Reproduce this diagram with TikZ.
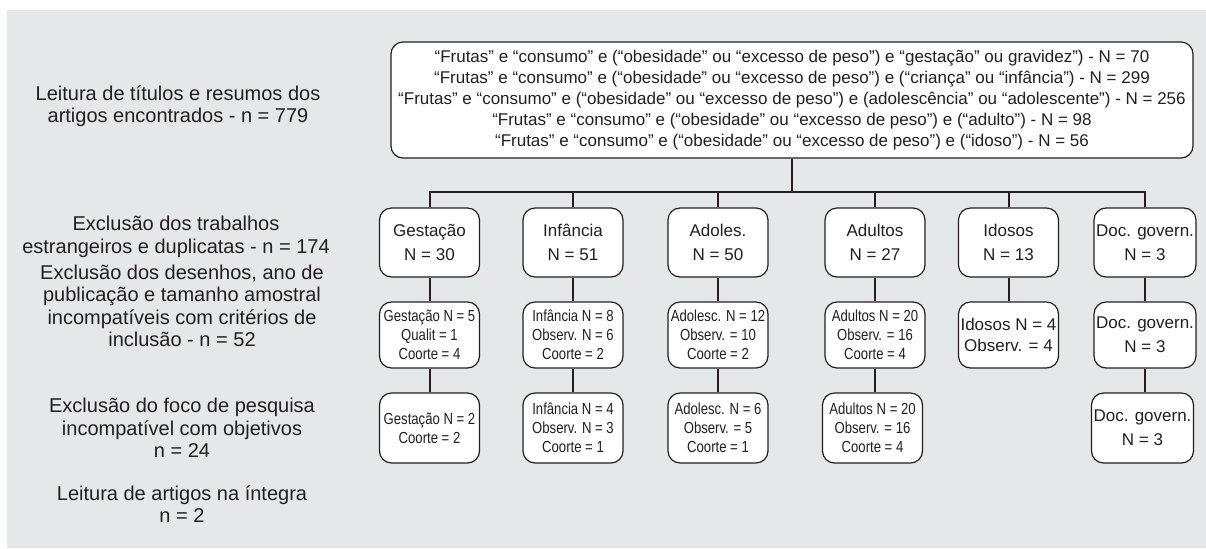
\documentclass[tikz,border=0pt]{standalone}
\usepackage{fontspec}
\setmainfont{Liberation Sans}
\newfontfamily\narrowfont[FakeStretch=0.82]{Liberation Sans}
\definecolor{panel}{HTML}{E6E7E8}
\definecolor{ink}{HTML}{231F20}
\tikzset{
  every node/.style={font=\fontsize{8.5}{10.5}\selectfont, text=ink},
  catbox/.style={draw=ink, fill=white, rounded corners=6pt, line width=0.6pt,
    minimum width=50pt, minimum height=34.5pt, align=center, inner sep=1pt},
  subbox/.style={catbox, font=\narrowfont\fontsize{8}{9.6}\selectfont},
  steptext/.style={align=center, font=\fontsize{10}{11.25}\selectfont},
  link/.style={draw=ink, line width=1pt}
}
\begin{document}
\begin{tikzpicture}[x=0.5pt,y=-0.5pt]
%\draw[step=10,gray,very thin] (0,0) grid (1206,548);
\useasboundingbox (0,0) rectangle (1206,548);
\fill[panel] (7,10) rectangle (1206,548);

% etapas
\node[steptext] (s1) at (178,106) {Leitura de títulos e resumos dos\\artigos encontrados - n = 779};
\node[steptext] (s2) at (176,237) {Exclusão dos trabalhos\\estrangeiros e duplicatas - n = 174};
\node[steptext] (s3) at (182,306) {Exclusão dos desenhos, ano de\\publicação e tamanho amostral\\incompatíveis com critérios de\\inclusão - n = 52};
\node[steptext] (s4) at (182,428) {Exclusão do foco de pesquisa\\incompatível com objetivos\\n = 24};
\node[steptext] (s5) at (182,504) {Leitura de artigos na íntegra\\n = 2};

% busca
\node[catbox, minimum width=401pt, minimum height=58pt] (busca) at (792,100) {%
“Frutas” e “consumo” e (“obesidade” ou “excesso de peso”) e “gestação” ou gravidez”) - N = 70\\
“Frutas” e “consumo” e (“obesidade” ou “excesso de peso”) e (“criança” ou “infância”) - N = 299\\
“Frutas” e “consumo” e (“obesidade” ou “excesso de peso”) e (adolescência” ou “adolescente”) - N = 256\\
“Frutas” e “consumo” e (“obesidade” ou “excesso de peso”) e (“adulto”) - N = 98\\
“Frutas” e “consumo” e (“obesidade” ou “excesso de peso”) e (“idoso”) - N = 56};
\coordinate (bus) at (792,192);

% primeiro nivel
\node[catbox, font=\fontsize{8.5}{12}\selectfont] (gest1) at (429.5,242.5) {Gestação\\N = 30};
\node[catbox, font=\fontsize{8.5}{12}\selectfont] (inf1) at (573,242.5) {Infância\\N = 51};
\node[catbox, font=\fontsize{8.5}{12}\selectfont] (adol1) at (718,242.5) {Adoles.\\N = 50};
\node[catbox, font=\fontsize{8.5}{12}\selectfont] (adul1) at (875,242.5) {Adultos\\N = 27};
\node[catbox, font=\fontsize{8.5}{12}\selectfont] (idos1) at (1008.5,242.5) {Idosos\\N = 13};
\node[catbox, font=\fontsize{8.5}{12}\selectfont] (doc1) at (1145,242.5) {Doc. govern.\\N = 3};

% segundo nivel
\node[subbox, minimum height=33pt] (gest2) at (429.5,335) {Gestação N = 5\\Qualit = 1\\Coorte = 4};
\node[subbox, minimum height=33pt] (inf2) at (573,335) {Infância N = 8\\Observ. N = 6\\Coorte = 2};
\node[subbox, minimum height=33pt] (adol2) at (718,335) {Adolesc. N = 12\\Observ. = 10\\Coorte = 2};
\node[subbox, minimum height=33pt] (adul2) at (875,335) {Adultos N = 20\\Observ. = 16\\Coorte = 4};
\node[catbox, minimum height=33pt] (idos2) at (1008.5,335) {Idosos N = 4\\Observ. = 4};
\node[catbox, minimum height=33pt, font=\fontsize{8.5}{12}\selectfont] (doc2) at (1145,335) {Doc. govern.\\N = 3};

% terceiro nivel
\node[subbox, minimum height=35pt] (gest3) at (429.5,428) {Gestação N = 2\\Coorte = 2};
\node[subbox, minimum height=35pt] (inf3) at (573,428) {Infância N = 4\\Observ. N = 3\\Coorte = 1};
\node[subbox, minimum height=35pt] (adol3) at (718,428) {Adolesc. N = 6\\Observ. = 5\\Coorte = 1};
\node[subbox, minimum height=35pt] (adul3) at (872.5,428) {Adultos N = 20\\Observ. = 16\\Coorte = 4};
\node[catbox, minimum height=35pt, font=\fontsize{8.5}{12}\selectfont] (doc3) at (1142.5,428) {Doc. govern.\\N = 3};

% ligacoes
\draw[link] (busca.south) -- (bus);
\draw[link] (gest1.north) |- (bus);
\draw[link] (inf1.north) |- (bus);
\draw[link] (adol1.north) |- (bus);
\draw[link] (adul1.north) |- (bus);
\draw[link] (idos1.north) |- (bus);
\draw[link] (doc1.north) |- (bus);

\draw[link] (gest1) -- (gest2);
\draw[link] (inf1) -- (inf2);
\draw[link] (adol1) -- (adol2);
\draw[link] (adul1) -- (adul2);
\draw[link] (idos1) -- (idos2);
\draw[link] (doc1) -- (doc2);

\draw[link] (gest2) -- (gest3);
\draw[link] (inf2) -- (inf3);
\draw[link] (adol2) -- (adol3);
\draw[link] (adul2) -- (adul3.north -| adul2);
\draw[link] (doc2) -- (doc3.north -| doc2);

\end{tikzpicture}
\end{document}
